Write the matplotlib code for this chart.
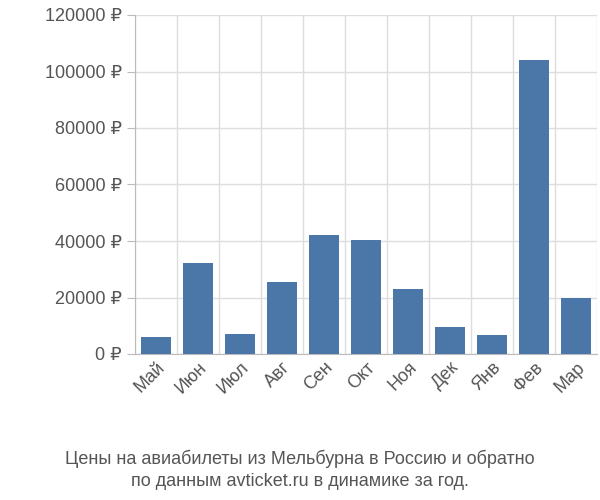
import matplotlib
matplotlib.use("Agg")
import matplotlib.pyplot as plt
import numpy as np

months = ["Май","Июн","Июл","Авг","Сен","Окт","Ноя","Дек","Янв","Фев","Мар"]
prices = [6000, 32200, 7100, 25500, 42100, 40400, 23000, 9600, 6700, 104100, 19800]
yticks = [0, 20000, 40000, 60000, 80000, 100000, 120000]

plt.rcParams['font.family'] = ['Liberation Sans', 'DejaVu Sans']
fig = plt.figure(figsize=(6, 5), dpi=100)
ax = fig.add_axes([0.225, 0.292, 0.77, 0.678])
x = np.arange(len(months))
ax.bar(x, prices, width=0.72, color="#4a76a8", zorder=3)
ax.set_xlim(-0.5, len(months) - 0.5)
ax.set_ylim(0, 120000)
ax.set_yticks(yticks)
ax.set_yticklabels([f"{v} ₽" for v in yticks], fontsize=13, color="#555555")
ax.set_xticks(x)
ax.set_xticklabels(months, rotation=45, ha="right", rotation_mode="anchor", fontsize=13, color="#555555")
ax.set_xticks(np.arange(-0.5, len(months), 1), minor=True)
ax.grid(True, axis="y", color="#dddddd", lw=1, zorder=0)
ax.grid(True, axis="x", which="minor", color="#dddddd", lw=1, zorder=0)
ax.tick_params(axis="x", which="both", length=0)
ax.tick_params(axis="y", length=6, color="#bbbbbb")
for s in ["top", "right"]:
    ax.spines[s].set_visible(False)
ax.spines["left"].set_color("#bbbbbb")
ax.spines["bottom"].set_color("#bbbbbb")
fig.text(0.5, 0.06, "Цены на авиабилеты из Мельбурна в Россию и обратно\nпо данным avticket.ru в динамике за год.",
         ha="center", va="center", fontsize=13, color="#555555", linespacing=1.4)
fig.savefig("out.png")
